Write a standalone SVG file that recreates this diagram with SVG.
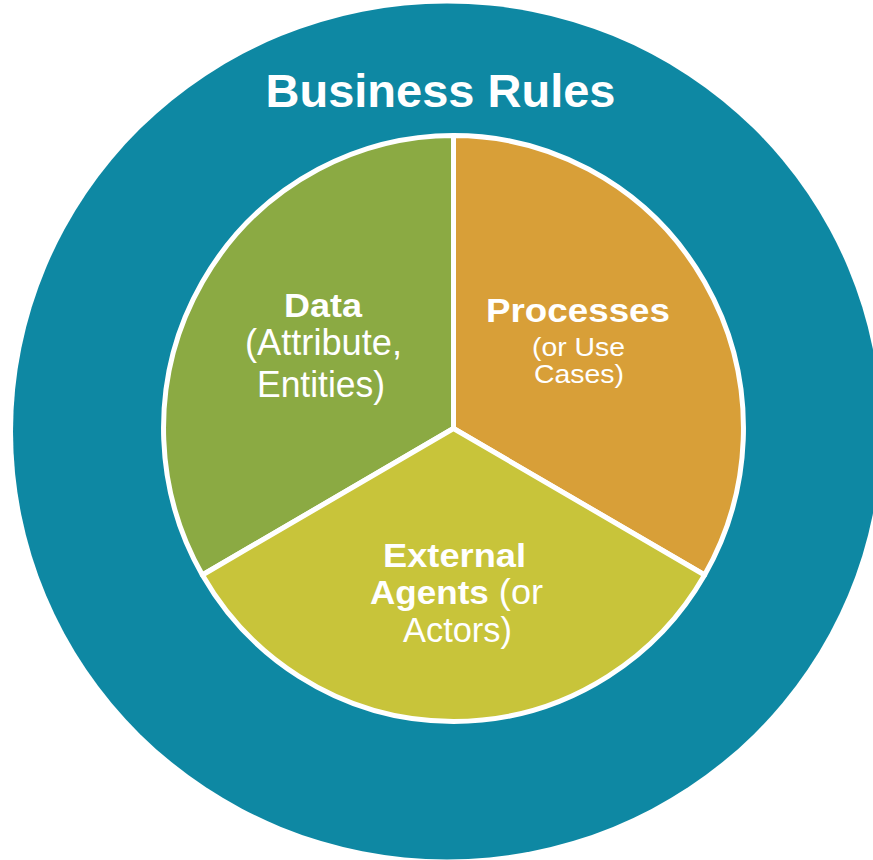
<svg xmlns="http://www.w3.org/2000/svg" width="873" height="860" viewBox="0 0 873 860">
<style>
.sec{stroke:#FFFFFF;stroke-width:5;stroke-linejoin:round}
.t{font-family:"Liberation Sans",Arial,sans-serif;fill:#FFFFFF;text-anchor:middle}
.b{font-weight:bold}
</style>
<rect width="873" height="860" fill="#FFFFFF"/>
<g id="business-rules">
<ellipse cx="447" cy="431.5" rx="434" ry="428" fill="#0E88A3"/>
<text class="t b" x="440.5" y="107" font-size="47">Business Rules</text>
</g>
<g id="data">
<path class="sec" fill="#8BAA43" d="M453.5,428.5 L202.4,575 A290,293 0 0 1 453.5,135.5 Z"/>
<text class="t b" x="323" y="317" font-size="34" textLength="78" lengthAdjust="spacingAndGlyphs">Data</text>
<text class="t" x="323.5" y="355" font-size="36" textLength="157" lengthAdjust="spacingAndGlyphs">(Attribute,</text>
<text class="t" x="321" y="397" font-size="36" textLength="128" lengthAdjust="spacingAndGlyphs">Entities)</text>
</g>
<g id="processes">
<path class="sec" fill="#D89F38" d="M453.5,428.5 L453.5,135.5 A290,293 0 0 1 704.6,575 Z"/>
<text class="t b" x="578" y="322" font-size="34" textLength="184" lengthAdjust="spacingAndGlyphs">Processes</text>
<text class="t" x="578.5" y="356" font-size="25" textLength="93" lengthAdjust="spacingAndGlyphs">(or Use</text>
<text class="t" x="579" y="383" font-size="25" textLength="90" lengthAdjust="spacingAndGlyphs">Cases)</text>
</g>
<g id="external-agents">
<path class="sec" fill="#C8C43A" d="M453.5,428.5 L704.6,575 A290,293 0 0 1 202.4,575 Z"/>
<text class="t b" x="454.5" y="567" font-size="34" textLength="143" lengthAdjust="spacingAndGlyphs">External</text>
<text class="t" x="456.5" y="604" font-size="35" textLength="173" lengthAdjust="spacingAndGlyphs"><tspan class="b" font-size="34">Agents</tspan> (or</text>
<text class="t" x="457.5" y="642" font-size="35" textLength="109" lengthAdjust="spacingAndGlyphs">Actors)</text>
</g>
<g id="connectors"/>
</svg>
